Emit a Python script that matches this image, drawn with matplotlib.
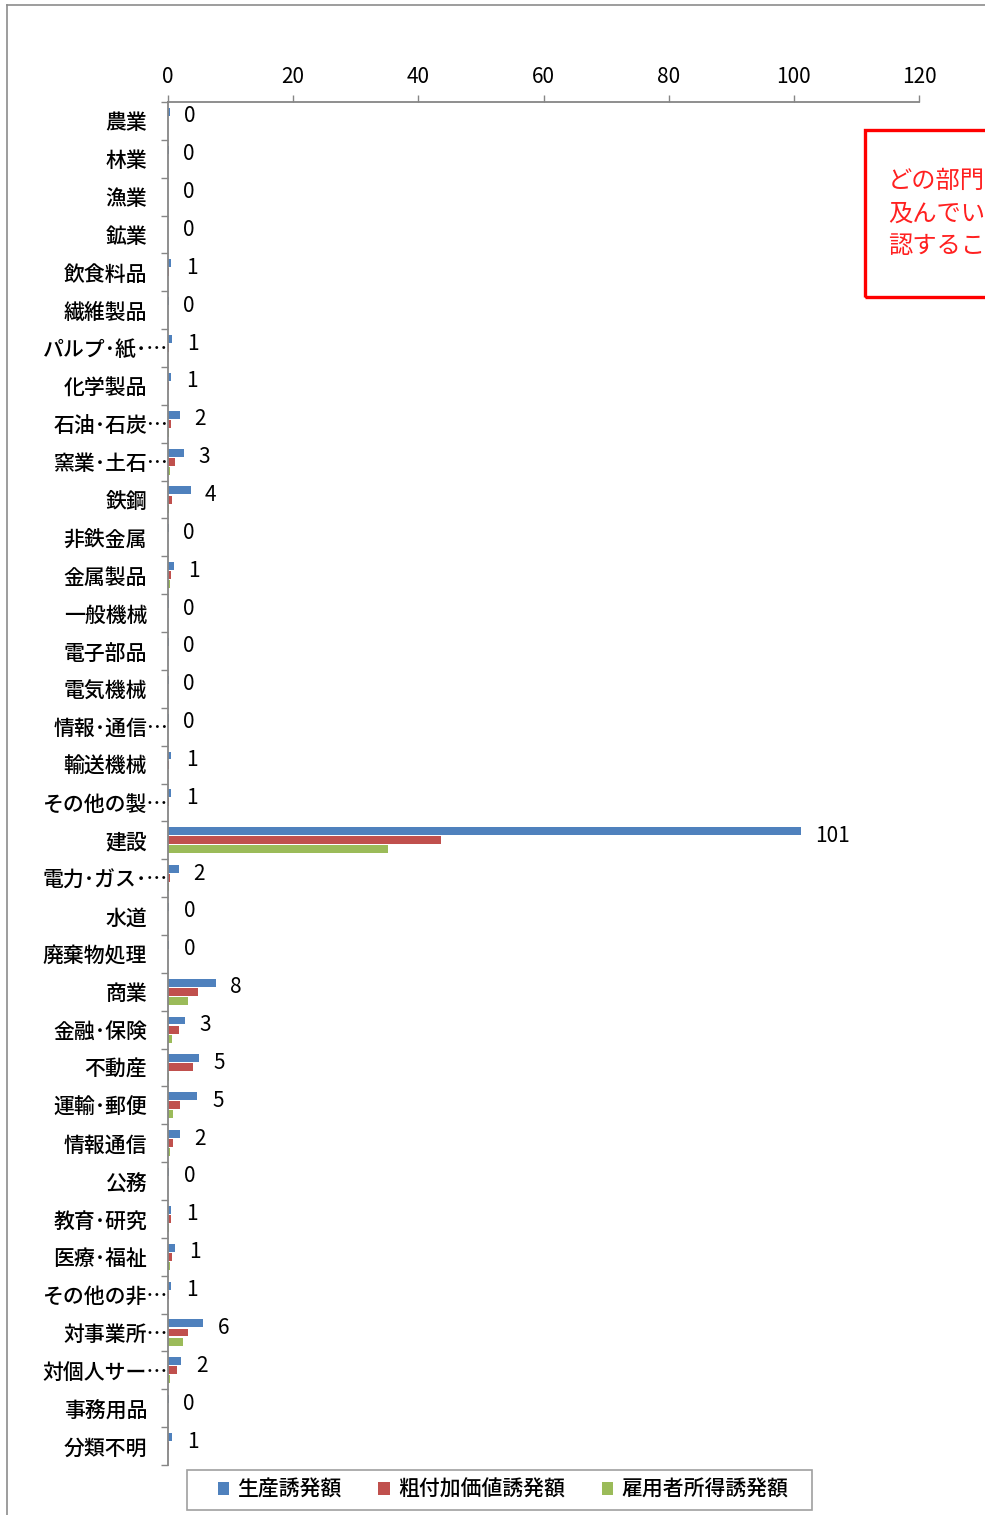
import matplotlib
matplotlib.use("Agg")
import matplotlib.pyplot as plt
import matplotlib.transforms as mtransforms
from matplotlib.patches import Rectangle, Patch
from matplotlib.lines import Line2D
import numpy as np

plt.rcParams['font.family'] = ['Noto Sans CJK JP', 'DejaVu Sans']

categories = ["農業", "林業", "漁業", "鉱業", "飲食料品", "繊維製品", "パルプ･紙･…", "化学製品",
              "石油･石炭…", "窯業･土石…", "鉄鋼", "非鉄金属", "金属製品", "一般機械", "電子部品",
              "電気機械", "情報･通信…", "輸送機械", "その他の製…", "建設", "電力･ガス･…", "水道",
              "廃棄物処理", "商業", "金融･保険", "不動産", "運輸･郵便", "情報通信", "公務",
              "教育･研究", "医療･福祉", "その他の非…", "対事業所…", "対個人サー…", "事務用品", "分類不明"]

production = [0.3, 0.1, 0.05, 0.05, 0.55, 0.1, 0.65, 0.55, 1.9, 2.6, 3.6, 0.1, 0.9, 0.1, 0.1,
              0.1, 0.1, 0.55, 0.55, 101.1, 1.7, 0.2, 0.2, 7.6, 2.7, 5.0, 4.7, 1.9, 0.2,
              0.55, 1.1, 0.55, 5.6, 2.1, 0.1, 0.65]
value_added = [0.05, 0.02, 0.02, 0.02, 0.1, 0.02, 0.1, 0.1, 0.4, 1.1, 0.6, 0.02, 0.4, 0.02, 0.02,
               0.02, 0.02, 0.1, 0.1, 43.6, 0.3, 0.05, 0.05, 4.8, 1.7, 4.0, 1.9, 0.85, 0.05,
               0.4, 0.6, 0.1, 3.2, 1.4, 0.02, 0.1]
employee_income = [0.02, 0.01, 0.01, 0.01, 0.05, 0.01, 0.05, 0.05, 0.2, 0.3, 0.2, 0.01, 0.3, 0.01, 0.01,
                   0.01, 0.01, 0.05, 0.05, 35.1, 0.1, 0.02, 0.02, 3.2, 0.6, 0.2, 0.85, 0.3, 0.02,
                   0.1, 0.3, 0.05, 2.4, 0.3, 0.01, 0.05]
series_names = ["生産誘発額", "粗付加価値誘発額", "雇用者所得誘発額"]
colors = ["#4F81BD", "#C0504D", "#9BBB59"]
xticks = [0, 20, 40, 60, 80, 100, 120]

W, H = 985, 1515
fig = plt.figure(figsize=(W / 100, H / 100), dpi=100)

def fx(px):
    return px / W

def fy(py):
    return 1 - py / H

# outer frame
fig.add_artist(Line2D([fx(7), fx(7)], [fy(5), fy(1515)], color="#8c8c8c", lw=1.2, transform=fig.transFigure))
fig.add_artist(Line2D([fx(7), fx(985)], [fy(5), fy(5)], color="#8c8c8c", lw=1.2, transform=fig.transFigure))

left, right, top, bottom = 168, 919, 102, 1465
ax = fig.add_axes([fx(left), fy(bottom), fx(right) - fx(left), fy(top) - fy(bottom)])

n = len(categories)
y = np.arange(n)
h = 0.21
off = 0.24
for vals, c, dy in zip([production, value_added, employee_income], colors, [-off, 0, off]):
    ax.barh(y + dy, vals, height=h, color=c, edgecolor='none')

for i, v in enumerate(production):
    ax.annotate(f"{int(v + 0.5)}", xy=(v, i - 0.12), xytext=(10.5, 0), textcoords="offset points",
                ha="left", va="center", fontsize=15, color="#000000")

ax.set_xlim(0, 120)
ax.set_ylim(n - 0.5, -0.5)
ax.set_xticks(xticks)
ax.set_xticklabels([str(t) for t in xticks])
ax.xaxis.tick_top()
ax.tick_params(axis='x', which='major', direction='out', length=5, width=1, color="#868686",
               labelsize=15, pad=5)

ax.set_yticks(y)
ax.set_yticklabels(categories, fontweight='medium')
ax.set_yticks(np.arange(n + 1) - 0.5, minor=True)
ax.tick_params(axis='y', which='major', length=0, labelsize=15, pad=15)
ax.tick_params(axis='y', which='minor', direction='out', length=5, width=1, color="#868686")

shift = mtransforms.ScaledTranslation(21 / 100, 0, fig.dpi_scale_trans)
for lbl in ax.get_yticklabels():
    if lbl.get_text().endswith("…"):
        lbl.set_transform(lbl.get_transform() + shift)

for s in ["right", "bottom"]:
    ax.spines[s].set_visible(False)
for s in ["top", "left"]:
    ax.spines[s].set_color("#868686")
    ax.spines[s].set_linewidth(1.3)

# red annotation box (clipped by figure edge, as in the original)
fig.add_artist(Rectangle((fx(865), fy(297)), fx(1040) - fx(865), fy(130) - fy(297),
                         fill=False, edgecolor="#FF0000", lw=2.4, transform=fig.transFigure))
box_lines = ["どの部門に波及効果が", "及んでいるのかを確", "認することができる。"]
for k, line in enumerate(box_lines):
    fig.text(fx(888), fy(181 + 32.5 * k), line, color="#FF2020", fontsize=17.5,
             ha="left", va="center")

# legend with a hand-sized frame like the original
fig.add_artist(Rectangle((fx(187), fy(1510)), fx(812) - fx(187), fy(1470) - fy(1510),
                         fill=True, facecolor="white", edgecolor="#a0a0a0", lw=1.2,
                         transform=fig.transFigure))
handles = [Patch(facecolor=c, edgecolor='none') for c in colors]
leg = fig.legend(handles, series_names, loc="center", bbox_to_anchor=(fx(503), fy(1490)), ncol=3,
                 prop={'size': 15, 'weight': 'medium'}, frameon=False,
                 handlelength=0.55, handleheight=0.55, handletextpad=0.4, columnspacing=1.75,
                 borderpad=0.3, borderaxespad=0)
leg.set_zorder(5)

fig.savefig("out.png", dpi=100)
